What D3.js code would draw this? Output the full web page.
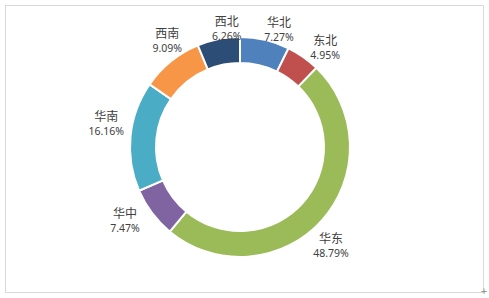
<!DOCTYPE html>
<html>
<head>
<meta charset="utf-8">
<script src="https://cdn.jsdelivr.net/npm/d3@7"></script>
<style>
  body { margin: 0; background: #fff; }
  svg { display: block; }
</style>
</head>
<body>
<svg id="chart" width="489" height="298"></svg>
<script>
// data (clockwise from 12 o'clock)
const regions = ['华北', '东北', '华东', '华中', '华南', '西南', '西北'];
const shares = [7.27, 4.95, 48.79, 7.47, 16.16, 9.09, 6.26];
const colors = ['#4F81BD', '#C0504D', '#9BBB59', '#8064A2', '#4BACC6', '#F79646', '#2C4D75'];

const W = 489, H = 298;
const cx = 240, cy = 147;
const outerR = 110, innerR = 84;

const svg = d3.select('#chart');

// chart frame
svg.append('rect')
  .attr('x', 5.5).attr('y', 5.5)
  .attr('width', 478).attr('height', 287)
  .attr('fill', '#fff')
  .attr('stroke', '#d9d9d9');

// little resize handle in the corner
svg.append('text')
  .attr('x', 484).attr('y', 294)
  .attr('text-anchor', 'middle')
  .attr('font-size', 9)
  .attr('font-family', 'DejaVu Sans')
  .attr('fill', '#888')
  .text('+');

const rows = regions.map((r, i) => ({ name: r, value: shares[i], color: colors[i] }));

const pie = d3.pie().value(d => d.value).sort(null);
const arc = d3.arc().innerRadius(innerR).outerRadius(outerR);
const arcs = pie(rows);

const g = svg.append('g').attr('transform', `translate(${cx},${cy})`);

g.selectAll('path')
  .data(arcs)
  .enter()
  .append('path')
  .attr('d', arc)
  .attr('fill', d => d.data.color)
  .attr('stroke', '#fff')
  .attr('stroke-width', 2);

// labels outside the ring; the label box touches the ring along
// the (slightly rotated) mid angle, like excel's "best fit"
const shift = 5 * Math.PI / 180;
const halfW = 25, halfH = 8;
const lbl = g.selectAll('g.lbl')
  .data(arcs)
  .enter()
  .append('g')
  .attr('class', 'lbl')
  .attr('transform', d => {
    const a = (d.startAngle + d.endAngle) / 2 + shift;
    const s = Math.sin(a), c = Math.cos(a);
    const r = outerR + Math.abs(s) * halfW + Math.abs(c) * halfH;
    return `translate(${r * s},${-r * c})`;
  });

lbl.append('text')
  .attr('text-anchor', 'middle')
  .attr('y', -1)
  .attr('font-family', '"Noto Sans CJK SC", sans-serif')
  .attr('font-size', 12)
  .attr('fill', '#404040')
  .text(d => d.data.name);

lbl.append('text')
  .attr('text-anchor', 'middle')
  .attr('y', 13)
  .attr('font-family', '"Noto Sans", sans-serif')
  .attr('font-size', 10.5)
  .attr('fill', '#404040')
  .text(d => d.data.value.toFixed(2) + '%');
</script>
</body>
</html>
